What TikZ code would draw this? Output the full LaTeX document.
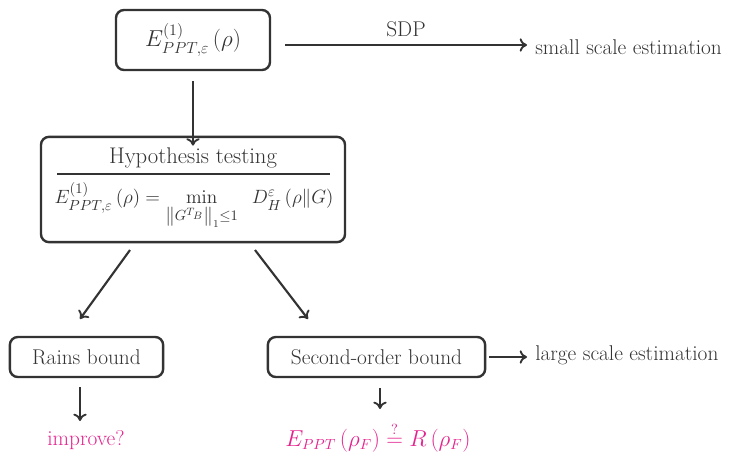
\documentclass[tikz,border=0pt]{standalone}
\usepackage{amsmath,amssymb}
\usetikzlibrary{arrows.meta}
\definecolor{ink}{HTML}{333333}
\definecolor{mag}{HTML}{E5238E}
\begin{document}
\begin{tikzpicture}[x=0.75pt,y=-0.75pt,
  box/.style={draw=ink,line width=1.8pt,rounded corners=6pt,inner sep=0pt,text=ink},
  arr/.style={draw=ink,line width=1.6pt,-{To[length=5.5pt,width=10pt,line width=1.4pt]}},
  lbl/.style={text=ink,inner sep=0pt,font=\fontsize{16}{19}\selectfont},
  pink/.style={text=mag,inner sep=0pt,font=\fontsize{16}{19}\selectfont}]
\useasboundingbox (0,0) rectangle (742,453);
\node[box,minimum width=115.5pt,minimum height=45pt,font=\fontsize{18}{21}\selectfont] (top) at (193,40) {$E^{(1)}_{PPT,\varepsilon}\,(\rho)$};
\coordinate (sdpA) at (285,45);
\coordinate (sdpB) at (527,45);
\draw[arr] (sdpA) -- (sdpB) node[midway,above=5pt,lbl] (sdp) {SDP};
\node[lbl,anchor=west] (small) at (535,47) {small scale estimation};
\node[box,minimum width=228pt,minimum height=79pt] (hyp) at (193,189.5) {};
\node[lbl,font=\fontsize{17}{20}\selectfont] (title) at (193,158) {Hypothesis testing};
\coordinate (r1) at (57,174);
\coordinate (r2) at (330,174);
\draw[ink,line width=1.8pt] (r1) -- (r2);
\node[lbl,font=\fontsize{15.5}{18}\selectfont] (form) at (194,206) {$E^{(1)}_{PPT,\varepsilon}\,(\rho) = \min\limits_{\left\|G^{T_B}\right\|_1\le 1}\;\; D^{\varepsilon}_{H}\,(\rho\|G)$};
\draw[arr] (top.south) ++(0,10) coordinate (t1) (t1) -- ([yshift=-7.5pt]hyp.north);
\node[box,minimum width=115pt,minimum height=30pt,font=\fontsize{16}{19}\selectfont] (rains) at (86.5,357) {Rains bound};
\node[box,minimum width=163pt,minimum height=30pt,font=\fontsize{16}{19}\selectfont] (second) at (376.5,357) {Second-order bound};
\coordinate (h1) at (130,250);
\coordinate (h2) at (255,250);
\coordinate (ra) at (80,319);
\coordinate (sa) at (308,319);
\draw[arr] (h1) -- (ra);
\draw[arr] (h2) -- (sa);
\coordinate (se) at (489,357);
\coordinate (la) at (527,357);
\draw[arr] (se) -- (la);
\node[lbl,anchor=west] (large) at (535,355) {large scale estimation};
\coordinate (i1) at (80,387);
\coordinate (i2) at (80,421);
\draw[arr] (i1) -- (i2);
\node[pink] (imp) at (86,440) {improve?};
\coordinate (f1) at (380,388);
\coordinate (f2) at (380,409);
\draw[arr] (f1) -- (f2);
\node[pink] (eq) at (378,437) {$E_{PPT}\,(\rho_F) \overset{?}{=} R\,(\rho_F)$};
\end{tikzpicture}
\end{document}
